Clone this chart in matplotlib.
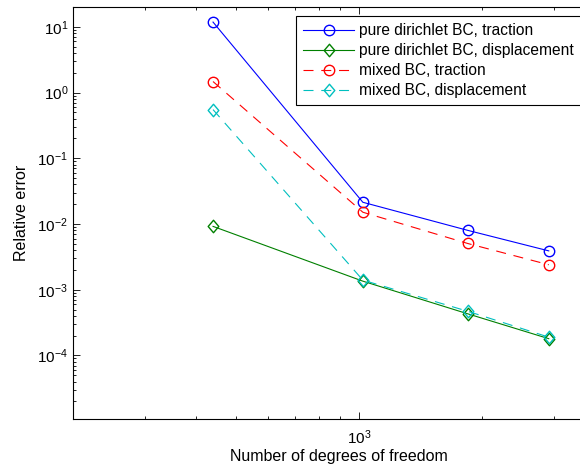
import matplotlib
matplotlib.use('Agg')
from matplotlib import pyplot as plt
from matplotlib.path import Path
from matplotlib.ticker import LogLocator, NullFormatter

plt.rcParams['font.family'] = ['Liberation Sans', 'DejaVu Sans']
plt.rcParams['mathtext.fontset'] = 'custom'
plt.rcParams['mathtext.rm'] = 'Liberation Sans'
plt.rcParams['mathtext.it'] = 'Liberation Sans'

# degrees of freedom
dofs = [440, 1023, 1847, 2914]
# relative errors
pure_traction = [11.8, 0.0214, 0.0080, 0.0039]
pure_displacement = [0.0092, 0.00135, 0.00043, 0.00018]
mixed_traction = [1.47, 0.0151, 0.00505, 0.0024]
mixed_displacement = [0.55, 0.0014, 0.00047, 0.00019]

labels = ['pure dirichlet BC, traction', 'pure dirichlet BC, displacement',
          'mixed BC, traction', 'mixed BC, displacement']

# matlab-like diamond, a bit narrower than tall
diamond = Path([(0, 1), (0.85, 0), (0, -1), (-0.85, 0), (0, 1)], closed=True)

fig = plt.figure(figsize=(5.8, 4.68), dpi=100)
ax = fig.add_axes([73 / 580, 49 / 468, (605 - 73) / 580, 412 / 468])

lw = 0.8
dash = (0, (9, 7))
ax.plot(dofs, pure_traction, color='#0000ff', marker='o', mfc='none', ms=7.5, lw=lw, label=labels[0])
ax.plot(dofs, pure_displacement, color='#008000', marker=diamond, mfc='none', ms=9, lw=lw, label=labels[1])
ax.plot(dofs, mixed_traction, color='#ff0000', marker='o', mfc='none', ms=7.5, lw=lw,
        linestyle=dash, label=labels[2])
ax.plot(dofs, mixed_displacement, color='#00bfbf', marker=diamond, mfc='none', ms=9, lw=lw,
        linestyle=dash, label=labels[3])

ax.set_xscale('log')
ax.set_yscale('log')
ax.set_xlim(200, 4000)
ax.set_ylim(1.08e-5, 20)
ax.set_yticks([1e-4, 1e-3, 1e-2, 1e-1, 1, 10])
ax.xaxis.set_major_locator(LogLocator(base=10, numticks=10))
ax.xaxis.set_minor_locator(LogLocator(base=10, subs=range(2, 10), numticks=10))
ax.xaxis.set_minor_formatter(NullFormatter())
ax.yaxis.set_minor_locator(LogLocator(base=10, subs=range(2, 10), numticks=20))
ax.yaxis.set_minor_formatter(NullFormatter())

ax.tick_params(which='both', direction='in', top=True, right=True, labelsize=11, width=0.6)
ax.tick_params(which='major', length=5)
ax.tick_params(which='minor', length=2.5)
ax.tick_params(axis='x', pad=7)
for s in ax.spines.values():
    s.set_linewidth(0.8)

ax.set_xlabel('Number of degrees of freedom', fontsize=11.5, labelpad=1)
ax.set_ylabel('Relative error', fontsize=11.5, labelpad=6)

leg = ax.legend(loc='upper left', bbox_to_anchor=(0.419, 0.978), fontsize=11.2,
                fancybox=False, framealpha=1, edgecolor='black', handlelength=3.3,
                borderaxespad=0, borderpad=0.45, labelspacing=0.32, handletextpad=0.3)
leg.get_frame().set_linewidth(0.8)

plt.savefig('out.png', dpi=100)
